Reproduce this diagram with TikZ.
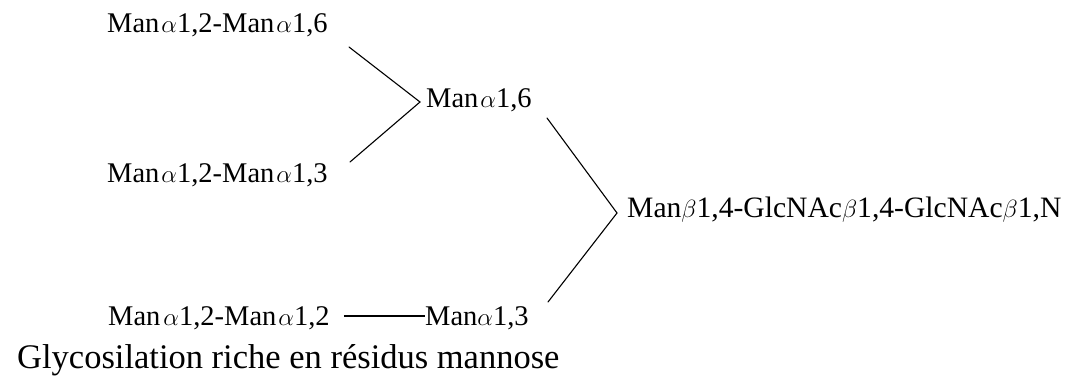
\documentclass[tikz,border=0pt]{standalone}
\usepackage{fontspec}
\setmainfont{Liberation Serif}
\begin{document}
\begin{tikzpicture}[x=1pt,y=-1pt,
  lbl/.style={anchor=base west,inner sep=0pt,font=\fontsize{28.5}{34}\selectfont},
  capt/.style={anchor=base west,inner sep=0pt,font=\fontsize{34.5}{40}\selectfont},
  bond/.style={line width=1.1pt,line cap=round}]
\useasboundingbox (0,0) rectangle (1070,377);
% labels
\node[lbl] (r1) at (107,33) {Man\kern2pt$\alpha$1,2-Man\kern2pt$\alpha$1,6};
\node[lbl] (m6) at (426,108) {Man\kern2pt$\alpha$1,6};
\node[lbl] (r2) at (107,182) {Man\kern2pt$\alpha$1,2-Man\kern2pt$\alpha$1,3};
\node[lbl,font=\fontsize{29.6}{34}\selectfont] (core) at (627,217) {Man$\beta$1,4-GlcNAc$\beta$1,4-GlcNAc$\beta$1,N};
\node[lbl] (r3) at (108,325) {Man\kern3pt$\alpha$1,2-Man\kern2pt$\alpha$1,2};
\node[lbl] (m3) at (425,325) {Man$\alpha$1,3};
\node[capt] (cap) at (17,368) {Glycosilation riche en résidus mannose};
% connector ends
\coordinate (a1) at (349,47);
\coordinate (v1) at (420,102);
\coordinate (a2) at (350,162);
\coordinate (b1) at (547,118);
\coordinate (v2) at (617,213);
\coordinate (b2) at (548,302);
% connectors
\draw[bond] (a1) -- (v1) -- (a2);
\draw[bond] (b1) -- (v2) -- (b2);
\draw[line width=1.3pt] ([xshift=14pt,yshift=9pt]r3.base east) -- ([yshift=9pt]m3.base west);
\end{tikzpicture}
\end{document}
